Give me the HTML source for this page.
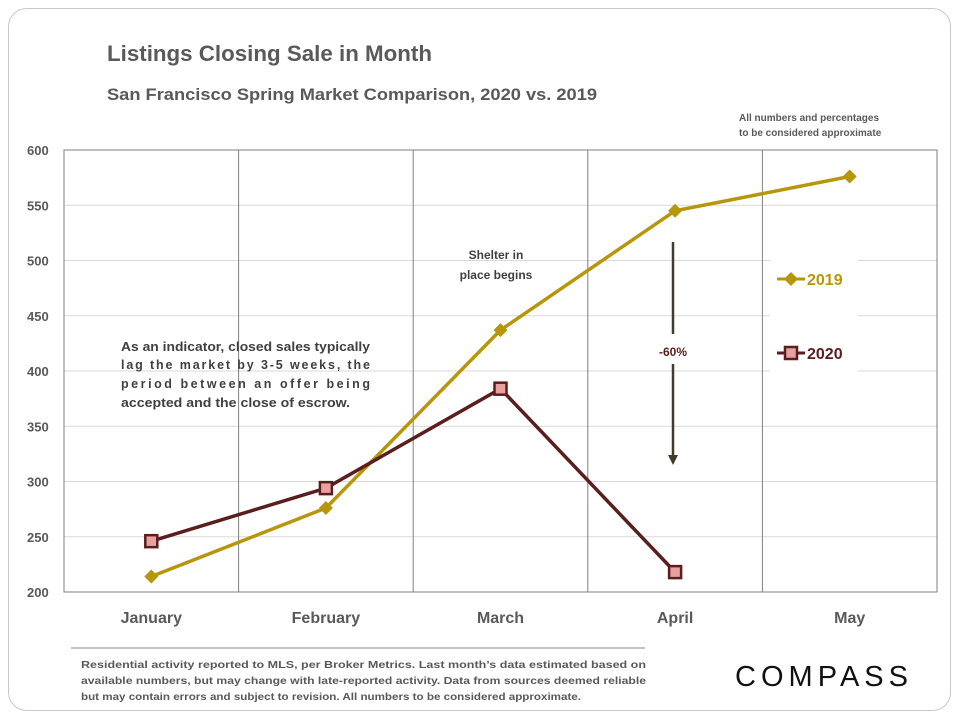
<!DOCTYPE html>
<html><head><meta charset="utf-8"><style>
body{margin:0;background:#fff;width:960px;height:720px;overflow:hidden;font-family:"Liberation Sans",Calibri,sans-serif}
svg text{font-family:"Liberation Sans",sans-serif}
</style></head><body>
<svg id="chart" width="960" height="720" xmlns="http://www.w3.org/2000/svg">
<rect x="8.5" y="8.5" width="942" height="702" rx="18" fill="#fff" stroke="#c8c8c8"/>
<text x="107" y="61" font-size="22" font-weight="bold" fill="#595959" textLength="325" lengthAdjust="spacingAndGlyphs">Listings Closing Sale in Month</text>
<text x="107" y="100" font-size="17" font-weight="bold" fill="#595959" textLength="490" lengthAdjust="spacingAndGlyphs">San Francisco Spring Market Comparison,  2020 vs. 2019</text>
<text font-size="10" font-weight="bold" fill="#595959"><tspan x="739" y="121">All numbers and percentages</tspan><tspan x="739" y="136">to be considered approximate</tspan></text>
<g id="grid"></g>
<g id="series"></g>
<g font-size="12" font-weight="bold" fill="#404040" text-anchor="middle"><text x="496" y="259">Shelter in</text><text x="496" y="279">place  begins</text></g>
<g font-size="12.5" font-weight="bold" fill="#404040">
<text x="121" y="351" textLength="249" lengthAdjust="spacingAndGlyphs">As an indicator, closed sales typically</text>
<text x="121" y="369" textLength="249" lengthAdjust="spacing">lag  the  market  by  3-5  weeks,  the</text>
<text x="121" y="388" textLength="249" lengthAdjust="spacing">period   between   an   offer   being</text>
<text x="121" y="407" textLength="229" lengthAdjust="spacingAndGlyphs">accepted and the close of escrow.</text></g>
<g>
<line x1="673" y1="242" x2="673" y2="334" stroke="#3d3d2a" stroke-width="2.5"/>
<line x1="673" y1="364" x2="673" y2="458" stroke="#3d3d2a" stroke-width="2.5"/>
<path d="M668 455 L673 465 L678 455 Z" fill="#3d3d2a"/>
<text x="673" y="356" font-size="12" font-weight="bold" fill="#5a1e1e" text-anchor="middle">-60%</text></g>
<g>
<rect x="770" y="255" width="88" height="120" fill="#fff"/>
<g><line x1="777" y1="279" x2="805" y2="279" stroke="#b8960c" stroke-width="3"/><path d="M791 272 L798 279 L791 286 L784 279 Z" fill="#b8960c"/><text x="807" y="285" font-size="16" font-weight="bold" fill="#b8960c">2019</text></g>
<g><line x1="777" y1="353" x2="805" y2="353" stroke="#5a1e1e" stroke-width="3"/><rect x="785" y="347" width="12" height="12" fill="#e8a0a0" stroke="#5a1e1e" stroke-width="2.5"/><text x="807" y="359" font-size="16" font-weight="bold" fill="#5a1e1e">2020</text></g></g>
<line x1="71" y1="648" x2="645" y2="648" stroke="#888"/>
<g font-size="10.5" font-weight="bold" fill="#595959">
<text x="81" y="668" textLength="565" lengthAdjust="spacingAndGlyphs">Residential activity reported to MLS, per Broker Metrics. Last month’s data estimated based on</text>
<text x="81" y="684" textLength="565" lengthAdjust="spacingAndGlyphs">available numbers, but may change with late-reported activity. Data from sources deemed reliable</text>
<text x="81" y="700" textLength="500" lengthAdjust="spacingAndGlyphs">but may contain errors and subject to revision. All numbers to be considered approximate.</text></g>
<text x="735" y="686" font-size="29" fill="#111" textLength="173" lengthAdjust="spacing">COMPASS</text>
</svg>
<script>
const categories=["January","February","March","April","May"];
const values2019=[214,276,437,545,576];
const values2020=[246,294,384,218];
const yTicks=[200,250,300,350,400,450,500,550,600];
const X0=64,X1=937,Y0=592,Y1=150,VMIN=200,VMAX=600;
const NS="http://www.w3.org/2000/svg";
const bw=(X1-X0)/categories.length;
function xs(i){return X0+bw*(i+0.5);}
function ys(v){return Y0-(v-VMIN)/(VMAX-VMIN)*(Y0-Y1);}
function mk(tag,attrs,parent){const e=document.createElementNS(NS,tag);for(const k in attrs)e.setAttribute(k,attrs[k]);parent.appendChild(e);return e;}
const grid=document.getElementById('grid'),ser=document.getElementById('series');
yTicks.forEach(t=>{
 if(t>VMIN){const l=mk('line',{x1:X0,x2:X1,y1:ys(t),y2:ys(t),stroke:'#d9d9d9'},grid);
 
 }
 const tx=mk('text',{x:27,y:ys(t)+5,'font-size':13,'font-weight':'bold',fill:'#595959'},grid);tx.textContent=t;
 
 
});
for(let i=1;i<categories.length;i++){const l=mk('line',{x1:X0+bw*i,x2:X0+bw*i,y1:Y1,y2:Y0,stroke:'#7f7f7f'},grid);
 
 }
const frame=mk('rect',{x:X0,y:Y1,width:X1-X0,height:Y0-Y1,fill:'none',stroke:'#7f7f7f'},grid);


categories.forEach((c,i)=>{const t=mk('text',{x:xs(i),y:623,'font-size':16,'font-weight':'bold',fill:'#595959','text-anchor':'middle'},grid);t.textContent=c;
 
 });
const p19=mk('polyline',{points:values2019.map((v,i)=>xs(i)+','+ys(v)).join(' '),fill:'none',stroke:'#b8960c','stroke-width':3.5},ser);


const p20=mk('polyline',{points:values2020.map((v,i)=>xs(i)+','+ys(v)).join(' '),fill:'none',stroke:'#5a1e1e','stroke-width':3.5},ser);


values2019.forEach((v,i)=>{const x=xs(i),y=ys(v);const m=mk('path',{d:`M${x} ${y-7} L${x+7} ${y} L${x} ${y+7} L${x-7} ${y} Z`,fill:'#b8960c'},ser);
 
 });
values2020.forEach((v,i)=>{const x=xs(i),y=ys(v);const m=mk('rect',{x:x-6,y:y-6,width:12,height:12,fill:'#e8a0a0',stroke:'#5a1e1e','stroke-width':2.5},ser);
 
 });
</script>
</body></html>
